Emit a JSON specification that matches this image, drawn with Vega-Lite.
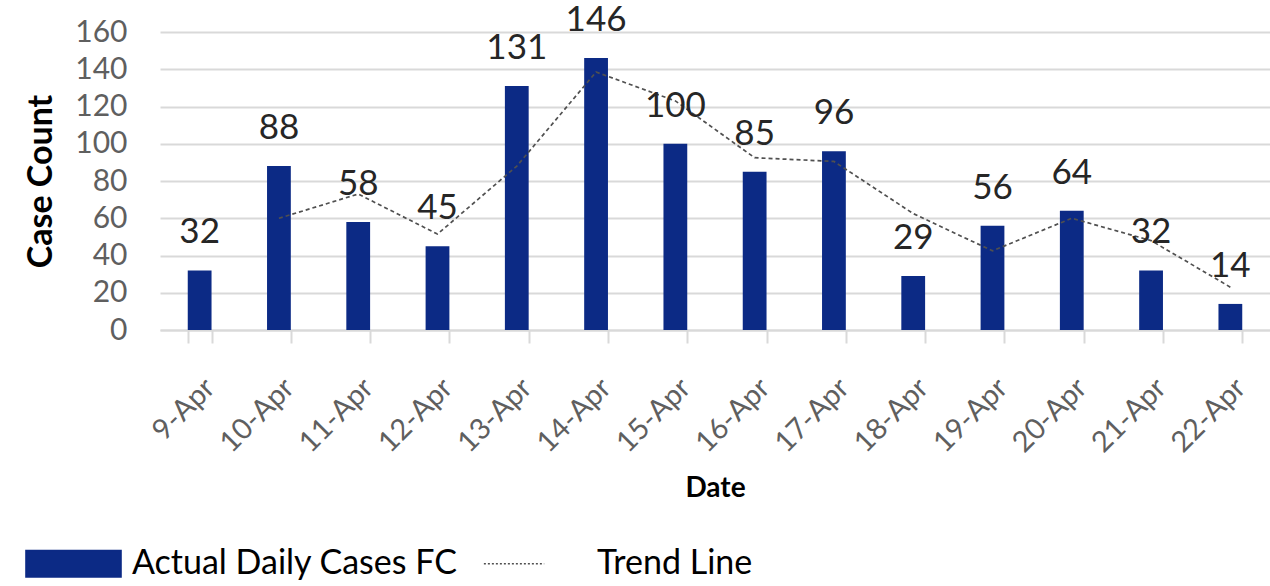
{
  "$schema": "https://vega.github.io/schema/vega-lite/v6.json",
  "width": 1110,
  "height": 298,
  "autosize": "none",
  "padding": {"left": 160, "top": 32, "right": 0, "bottom": 256},
  "background": "white",
  "config": {
    "view": {"stroke": null},
    "font": "Lato",
    "axisY": {"labelOverlap": false}
  },
  "data": {
    "values": [
      {"date": "9-Apr", "cases": 32, "trend": null},
      {"date": "10-Apr", "cases": 88, "trend": 60},
      {"date": "11-Apr", "cases": 58, "trend": 73},
      {"date": "12-Apr", "cases": 45, "trend": 51.5},
      {"date": "13-Apr", "cases": 131, "trend": 88},
      {"date": "14-Apr", "cases": 146, "trend": 138.5},
      {"date": "15-Apr", "cases": 100, "trend": 123},
      {"date": "16-Apr", "cases": 85, "trend": 92.5},
      {"date": "17-Apr", "cases": 96, "trend": 90.5},
      {"date": "18-Apr", "cases": 29, "trend": 62.5},
      {"date": "19-Apr", "cases": 56, "trend": 42.5},
      {"date": "20-Apr", "cases": 64, "trend": 60},
      {"date": "21-Apr", "cases": 32, "trend": 48},
      {"date": "22-Apr", "cases": 14, "trend": 23}
    ]
  },
  "encoding": {
    "x": {
      "field": "date",
      "type": "ordinal",
      "sort": null,
      "scale": {"paddingInner": 0.7, "paddingOuter": 0.35},
      "axis": {
        "title": "Date",
        "titleFont": "Lato",
        "titleFontSize": 28,
        "titleFontWeight": "bold",
        "titleColor": "#000000",
        "titleY": 144,
        "titleBaseline": "top",
        "labelAngle": -45,
        "labelFontSize": 29,
        "labelColor": "#5f5f5f",
        "labelPadding": 30,
        "labelOverlap": false,
        "tickBand": "extent",
        "tickColor": "#d9d9d9",
        "tickWidth": 2,
        "tickSize": 13,
        "domainColor": "#d9d9d9",
        "domainWidth": 2
      }
    }
  },
  "layer": [
    {
      "mark": {"type": "bar"},
      "encoding": {
        "y": {
          "field": "cases",
          "type": "quantitative",
          "scale": {"domain": [0, 160], "nice": false},
          "axis": {
            "title": "Case Count",
            "titleFont": "Lato",
            "titleFontSize": 34,
            "titleFontWeight": "bold",
            "titleColor": "#000000",
            "titlePadding": 16,
            "values": [0, 20, 40, 60, 80, 100, 120, 140, 160],
            "labelFontSize": 30,
            "labelColor": "#5f5f5f",
            "labelPadding": 33,
            "labelOverlap": false,
            "domain": false,
            "ticks": false,
            "gridColor": "#d9d9d9",
            "gridWidth": 2
          }
        },
        "color": {
          "datum": "Actual Daily Cases FC",
          "type": "nominal",
          "scale": {"domain": ["Actual Daily Cases FC", "Trend Line"], "range": ["#0c2a85", "#505050"]},
          "legend": {
            "orient": "none",
            "legendX": -135,
            "legendY": 483,
            "direction": "horizontal",
            "title": null,
            "labelFont": "Lato",
            "labelFontSize": 34,
            "labelColor": "#000000",
            "labelOffset": 10,
            "labelLimit": 0,
            "columnPadding": 22,
            "symbolSize": 9025,
            "symbolType": "M-1,-0.28H1V0.28H-1Z",
            "encode": {
              "symbols": {
                "update": {
                  "shape": [
                    {"test": "datum.value === 'Trend Line'", "value": "M-1.15,0H0.12"},
                    {"value": "M-1,-0.28H1V0.28H-1Z"}
                  ],
                  "strokeDash": [
                    {"test": "datum.value === 'Trend Line'", "value": [2, 2]},
                    {"value": []}
                  ],
                  "stroke": [
                    {"test": "datum.value === 'Trend Line'", "value": "#505050"},
                    {"value": "transparent"}
                  ],
                  "fill": [
                    {"test": "datum.value === 'Trend Line'", "value": "transparent"},
                    {"value": "#0c2a85"}
                  ],
                  "strokeWidth": {"value": 1.6}
                }
              }
            }
          }
        }
      }
    },
    {
      "mark": {"type": "line", "strokeDash": [4, 3], "strokeWidth": 1.7},
      "encoding": {
        "y": {
          "field": "trend",
          "type": "quantitative",
          "axis": {
            "title": "Case Count",
            "values": [0, 20, 40, 60, 80, 100, 120, 140, 160],
            "labelOverlap": false
          }
        },
        "color": {"datum": "Trend Line", "type": "nominal"}
      }
    },
    {
      "mark": {"type": "text", "dy": -27, "baseline": "alphabetic", "fontSize": 35, "color": "#262626", "font": "Lato"},
      "encoding": {
        "y": {
          "field": "cases",
          "type": "quantitative",
          "axis": {
            "title": "Case Count",
            "values": [0, 20, 40, 60, 80, 100, 120, 140, 160],
            "labelOverlap": false
          }
        },
        "text": {"field": "cases", "type": "quantitative"}
      }
    }
  ]
}
